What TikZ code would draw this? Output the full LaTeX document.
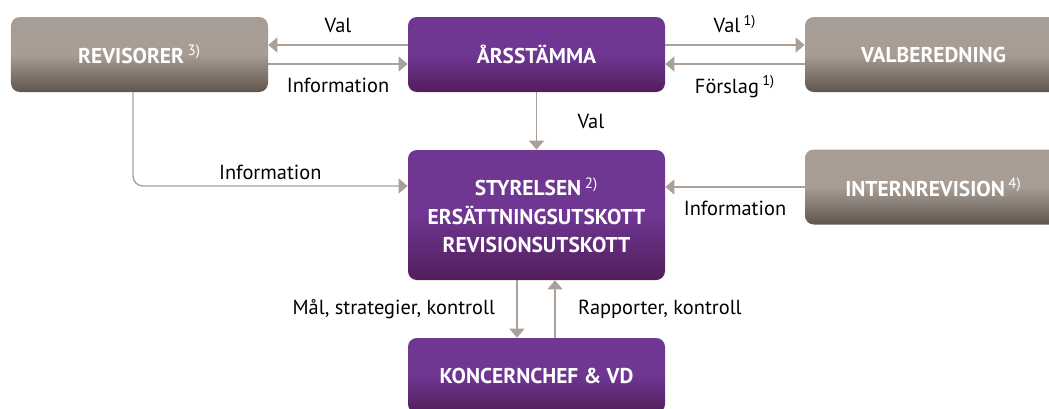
\documentclass[tikz,border=0pt]{standalone}
\usepackage{fontspec}
\setmainfont{PT Sans}
\definecolor{govpurple}{RGB}{111,54,146}
\definecolor{govpurpledk}{RGB}{82,30,90}
\definecolor{govgray}{RGB}{168,157,148}
\definecolor{govgraydk}{RGB}{96,85,77}
\definecolor{govline}{RGB}{170,160,152}
\usetikzlibrary{arrows.meta,positioning,calc}
\newcommand{\fnote}[1]{\,\textsuperscript{\mdseries #1}}

\begin{document}
\begin{tikzpicture}[
  every node/.style={font=\fontsize{11.6}{16}\selectfont,text=black},
  orgbox/.style={rounded corners=5pt,minimum width=5.14cm,minimum height=1.5cm,
                 align=center,text=white,inner sep=2pt,font=\fontsize{12.2}{16}\selectfont\bfseries},
  purplebox/.style={orgbox,top color=govpurple,bottom color=govpurpledk,middle color=govpurple},
  graybox/.style={orgbox,top color=govgray,bottom color=govgraydk,middle color=govgray},
  arr/.style={-{Triangle[length=0.18cm,width=0.3cm]},line width=0.8pt,govline},
]
  \useasboundingbox (0,0) rectangle (20.98,-8.16);
  \clip (0,0) rectangle (20.98,-8.16);

  % top row
  \node[graybox] (rev) at (2.79,-1.09) {REVISORER\fnote{3)}};
  \node[purplebox] (arss) at (10.73,-1.09) {ÅRSSTÄMMA};
  \node[graybox] (valb) at (18.67,-1.09) {VALBEREDNING};

  % board
  \node[purplebox,minimum height=2.6cm] (styr) at (10.73,-4.30)
    {STYRELSEN\fnote{2)}\\ERSÄTTNINGSUTSKOTT\\REVISIONSUTSKOTT};
  \node[graybox] (intrev) at (18.67,-3.74) {INTERNREVISION\fnote{4)}};

  % management
  \node[purplebox] (vd) at (10.73,-7.51) {KONCERNCHEF \& VD};

  % Arrows
  \draw[arr] ([yshift=0.19cm]arss.west) -- node[above=3pt] {Val} ([yshift=0.19cm]rev.east);
  \draw[arr] ([yshift=-0.19cm]rev.east) -- node[below=4pt] {Information} ([yshift=-0.19cm]arss.west);
  \draw[arr] ([yshift=0.19cm]arss.east) -- node[above=3pt] {Val\fnote{1)}} ([yshift=0.19cm]valb.west);
  \draw[arr] ([yshift=-0.19cm]valb.west) -- node[below=3pt] {Förslag\fnote{1)}} ([yshift=-0.19cm]arss.east);
  \draw[arr] (arss) -- node[right=0.69cm] {Val} (styr);
  \draw[arr,rounded corners=0.2cm] ([xshift=-0.13cm]rev.south) |- node[pos=0.75,above] {Information}
    ([yshift=0.58cm]styr.west);
  \draw[arr] (intrev.west) -- node[below=4.5pt] {Information} (intrev.west -| styr.east);
  \draw[arr] ([xshift=-0.39cm]styr.south) -- node[left=0.31cm] {Mål, strategier, kontroll}
    ([xshift=-0.39cm]vd.north);
  \draw[arr] ([xshift=0.37cm]vd.north) -- node[right=0.33cm] {Rapporter, kontroll}
    ([xshift=0.37cm]styr.south);
\end{tikzpicture}
\end{document}
